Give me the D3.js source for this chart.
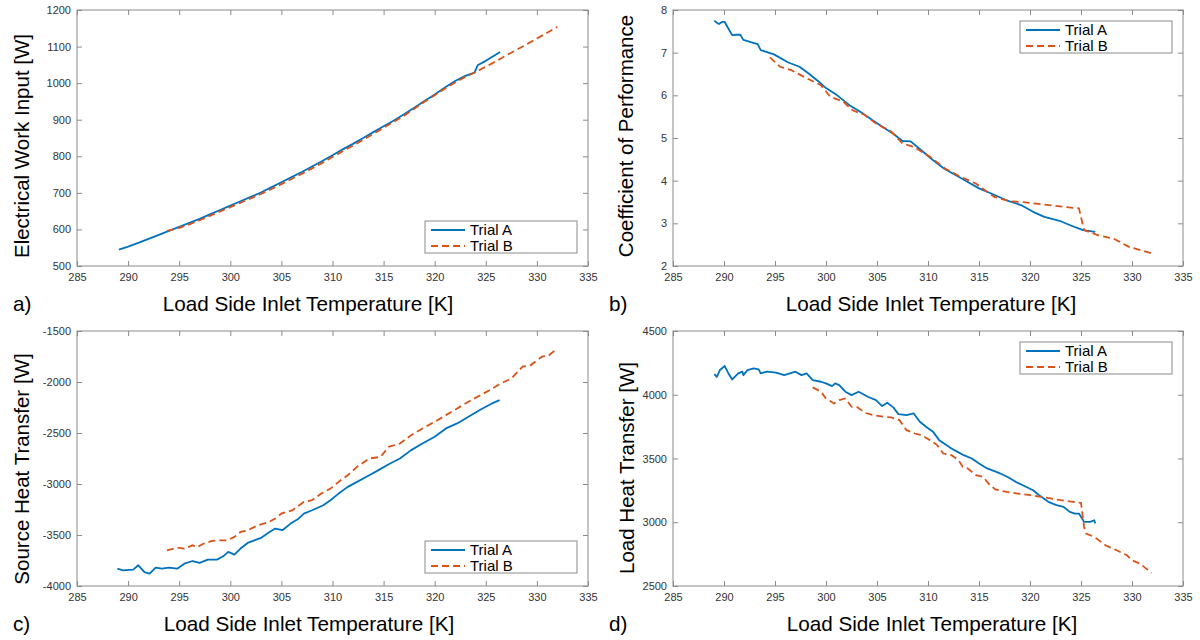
<!DOCTYPE html>
<html>
<head>
<meta charset="utf-8">
<script src="https://cdn.jsdelivr.net/npm/d3@7"></script>
<style>
body{margin:0;background:#fff}
svg{display:block}
text{font-family:"Liberation Sans",Arial,sans-serif}
</style>
</head>
<body>
<div id="chart"></div>
<script>

// x axis shared by all four panels
var xTicks = [285,290,295,300,305,310,315,320,325,330,335]
var seriesNames = ["Trial A","Trial B"]

// a) electrical work input [W]
var elecTicks = [500,600,700,800,900,1000,1100,1200]
var elecA = [[289.1,545],[290,553],[291,563],[292,574],[293,585],[294,596],[295,607],[296,618],[297,629],[298,641],[299,653],[300,665],[301,677],[302,689],[303,701],[304,715],[305,729],[306,743],[307,757],[308,772],[309,787],[310,803],[311,819],[312,834],[313,850],[314,866],[315,882],[316,898],[317,915],[318,933],[319,951],[320,969],[321,988],[322,1006],[323,1020],[323.9,1029],[324.2,1049],[325,1061],[326.4,1085]]
var elecB = [[293.8,596],[295,604],[296,614],[297,625],[298,637],[299,649],[300,661],[301,673],[302,685],[303,697],[304,710],[305,724],[306,738],[307,752],[308,767],[309,782],[310,798],[311,814],[312,829],[313,845],[314,861],[315,878],[316,894],[317,911],[318,930],[319,949],[320,967],[321,985],[322,1002],[323,1017],[324,1030],[325,1045],[326,1060],[327,1076],[328,1091],[329,1106],[330,1122],[331,1138],[332,1154]]

// b) coefficient of performance
var copTicks = [2,3,4,5,6,7,8]
var copA = [[289.05,7.75],[289.3,7.70],[289.5,7.67],[289.8,7.72],[290.07,7.72],[290.3,7.62],[290.8,7.41],[291.2,7.42],[291.6,7.42],[291.9,7.30],[292.7,7.24],[293.3,7.2],[293.6,7.06],[294.9,6.96],[296.3,6.77],[297.4,6.67],[298.3,6.51],[299.3,6.32],[300.0,6.17],[301.1,6.0],[302.3,5.77],[303.4,5.61],[304.6,5.41],[305.6,5.25],[306.6,5.1],[307.5,4.93],[308.3,4.92],[309.4,4.70],[310.5,4.48],[311.6,4.28],[313.0,4.09],[313.9,3.97],[315.0,3.82],[316.2,3.70],[317.7,3.54],[319.2,3.42],[320.3,3.27],[321.4,3.15],[322.9,3.06],[324.0,2.95],[325.2,2.84],[326.4,2.80]]
var copB = [[294.5,6.89],[295.5,6.67],[296.6,6.59],[298.1,6.40],[299.5,6.24],[300.4,5.97],[301.7,5.85],[302.6,5.65],[303.8,5.54],[304.9,5.34],[306.4,5.15],[307.5,4.87],[308.6,4.79],[310.2,4.56],[311.7,4.28],[313.2,4.09],[314.7,3.93],[316.5,3.62],[318.0,3.52],[319.2,3.50],[322.1,3.42],[324.8,3.35],[325.3,2.84],[326.7,2.72],[328.2,2.64],[329.7,2.45],[332.0,2.29]]

// c) source heat transfer [W]
var srcTicks = [-4000,-3500,-3000,-2500,-2000,-1500]
var srcA = [[288.95,-3830],[289.5,-3846],[290.5,-3840],[291.0,-3797],[291.6,-3863],[292.1,-3879],[292.7,-3820],[293.3,-3830],[294.0,-3820],[294.8,-3830],[295.5,-3781],[296.3,-3755],[297.0,-3774],[297.8,-3741],[298.7,-3741],[299.3,-3709],[299.8,-3666],[300.4,-3692],[301.0,-3633],[301.7,-3578],[303.0,-3529],[303.8,-3473],[304.4,-3437],[305.1,-3453],[305.9,-3388],[306.6,-3346],[307.2,-3290],[308.0,-3257],[309.1,-3208],[309.8,-3159],[310.6,-3094],[311.5,-3028],[312.4,-2979],[313.6,-2914],[314.5,-2864],[315.5,-2806],[316.6,-2750],[317.7,-2668],[318.8,-2603],[320.0,-2537],[321.1,-2455],[322.2,-2406],[323.3,-2341],[324.5,-2269],[325.6,-2210],[326.35,-2177]]
var srcB = [[293.8,-3650],[294.8,-3624],[295.5,-3634],[296.3,-3601],[296.8,-3617],[297.4,-3584],[298.2,-3558],[298.9,-3552],[299.7,-3552],[300.4,-3519],[301.0,-3470],[301.7,-3454],[302.7,-3404],[303.8,-3372],[304.4,-3339],[305.0,-3290],[306.1,-3257],[307.2,-3175],[308.0,-3159],[308.9,-3094],[309.8,-3045],[310.8,-2963],[311.5,-2914],[312.4,-2832],[313.6,-2750],[314.7,-2734],[315.5,-2636],[316.6,-2603],[317.7,-2521],[318.8,-2455],[320.0,-2390],[321.1,-2325],[322.2,-2259],[323.3,-2194],[324.5,-2128],[325.4,-2079],[326.35,-2020],[327.5,-1965],[328.6,-1850],[329.4,-1834],[330.5,-1752],[331.2,-1736],[331.9,-1680]]

// d) load heat transfer [W]
var loadTicks = [2500,3000,3500,4000,4500]
var loadA = [[289.05,4162],[289.3,4141],[289.6,4194],[290.07,4225],[290.4,4173],[290.8,4120],[291.4,4168],[291.8,4181],[291.9,4154],[292.3,4194],[292.9,4207],[293.4,4199],[293.6,4168],[294.2,4181],[295.1,4173],[295.9,4154],[297.0,4181],[297.6,4154],[298.1,4168],[298.7,4115],[299.5,4102],[300.0,4089],[300.6,4068],[300.9,4089],[301.3,4076],[301.9,4024],[302.5,3997],[303.2,4024],[304.1,3984],[304.9,3958],[305.5,3911],[306.0,3937],[306.6,3901],[307.1,3848],[307.9,3840],[308.6,3853],[309.2,3788],[309.9,3743],[310.5,3709],[311.1,3644],[311.8,3605],[312.3,3579],[312.9,3552],[313.5,3526],[314.3,3500],[315.0,3461],[315.8,3422],[316.7,3395],[317.1,3382],[317.9,3351],[318.6,3317],[319.6,3278],[320.3,3251],[320.9,3212],[321.8,3160],[322.6,3134],[323.3,3120],[323.9,3081],[324.4,3068],[324.8,3068],[325.3,3003],[325.9,3003],[326.3,3016],[326.4,2990]]
var loadB = [[298.7,4058],[299.5,4024],[300.0,3971],[300.8,3932],[301.3,3958],[301.9,3971],[302.5,3906],[303.1,3901],[303.8,3859],[304.6,3840],[305.7,3827],[306.4,3822],[307.2,3801],[307.9,3722],[308.7,3696],[309.4,3683],[310.2,3644],[310.9,3605],[311.5,3539],[312.3,3526],[313.0,3487],[313.4,3435],[313.9,3422],[314.7,3369],[315.4,3356],[316.0,3298],[316.6,3257],[317.7,3238],[318.8,3225],[320.0,3212],[321.1,3199],[323.0,3173],[325.0,3152],[325.3,2963],[325.5,2911],[326.3,2885],[327.4,2820],[328.5,2780],[329.5,2741],[330.0,2702],[330.8,2675],[331.4,2636],[331.9,2602]]

var colorA = "#0072BD", colorB = "#D95319"
var axisGray = "#8a8a8a"

var panels = [
	{tag:"a)", ylabel:"Electrical Work Input [W]", yDomain:[500,1200], yTicks:elecTicks, A:elecA, B:elecB,
	 left:77, top:10, width:511, height:256, legendTop:false, ylabX:29, ylabY:146, xlabX:308},
	{tag:"b)", ylabel:"Coefficient of Performance", yDomain:[2,8], yTicks:copTicks, A:copA, B:copB,
	 left:673, top:10, width:510, height:256, legendTop:true, ylabX:633, ylabY:136, xlabX:931},
	{tag:"c)", ylabel:"Source Heat Transfer [W]", yDomain:[-4000,-1500], yTicks:srcTicks, A:srcA, B:srcB,
	 left:77, top:331, width:511, height:255, legendTop:false, ylabX:29, ylabY:469, xlabX:309},
	{tag:"d)", ylabel:"Load Heat Transfer [W]", yDomain:[2500,4500], yTicks:loadTicks, A:loadA, B:loadB,
	 left:673, top:331, width:510, height:255, legendTop:true, ylabX:634, ylabY:468, xlabX:932}
]

var svg = d3.select("#chart").append("svg").attr("width",1200).attr("height",640)

function styleAxis(sel){
	sel.select(".domain").remove()
	sel.selectAll(".tick line").attr("stroke",axisGray)
	sel.selectAll(".tick text").attr("fill","#333").style("font-size","11px")
}

function drawPanel(p){
	var bottom = p.top+p.height, right = p.left+p.width
	var x = d3.scaleLinear().domain([285,335]).range([p.left,right])
	var y = d3.scaleLinear().domain(p.yDomain).range([bottom,p.top])
	var g = svg.append("g")

	g.append("g").attr("transform","translate(0,"+bottom+")")
		.call(d3.axisBottom(x).tickValues(xTicks).tickSize(-5).tickSizeOuter(0).tickPadding(7).tickFormat(function(d){return String(d)}))
		.call(styleAxis)
	g.append("g").attr("transform","translate(0,"+p.top+")")
		.call(d3.axisTop(x).tickValues(xTicks).tickSize(-5).tickSizeOuter(0).tickFormat(""))
		.call(styleAxis)
	g.append("g").attr("transform","translate("+p.left+",0)")
		.call(d3.axisLeft(y).tickValues(p.yTicks).tickSize(-5).tickSizeOuter(0).tickPadding(6).tickFormat(function(d){return String(d)}))
		.call(styleAxis)
	g.append("g").attr("transform","translate("+right+",0)")
		.call(d3.axisRight(y).tickValues(p.yTicks).tickSize(-5).tickSizeOuter(0).tickFormat(""))
		.call(styleAxis)

	g.append("rect").attr("x",p.left).attr("y",p.top).attr("width",p.width).attr("height",p.height)
		.attr("fill","none").attr("stroke",axisGray).attr("stroke-width",1)

	var line = d3.line().x(function(d){return x(d[0])}).y(function(d){return y(d[1])})
	g.append("path").datum(p.A).attr("d",line).attr("fill","none")
		.attr("stroke",colorA).attr("stroke-width",1.8).attr("stroke-linejoin","round")
	g.append("path").datum(p.B).attr("d",line).attr("fill","none")
		.attr("stroke",colorB).attr("stroke-width",1.8).attr("stroke-dasharray","7,4")

	// legend
	var lw = 152, lh = 32
	var lx = right-11-lw
	var ly = p.legendTop ? p.top+11 : bottom-13-lh
	var leg = g.append("g").attr("transform","translate("+lx+","+ly+")")
	leg.append("rect").attr("width",lw).attr("height",lh).attr("fill","#fff").attr("stroke",axisGray)
	seriesNames.forEach(function(name,i){
		var yy = 9+i*16
		leg.append("line").attr("x1",6).attr("x2",40).attr("y1",yy).attr("y2",yy)
			.attr("stroke",i==0?colorA:colorB).attr("stroke-width",1.8)
			.attr("stroke-dasharray",i==0?null:"7,4")
		leg.append("text").attr("x",45).attr("y",yy+5).text(name)
			.style("font-size","15px").attr("fill","#000")
	})

	// labels
	svg.append("text").attr("x",p.xlabX).attr("y",bottom+45).attr("text-anchor","middle")
		.style("font-size","20.7px").text("Load Side Inlet Temperature [K]")
	svg.append("text").attr("x",p.left-64).attr("y",bottom+45)
		.style("font-size","20.7px").text(p.tag)
	svg.append("text").attr("transform","translate("+p.ylabX+","+p.ylabY+") rotate(-90)")
		.attr("text-anchor","middle").style("font-size","20.5px").text(p.ylabel)
}

panels.forEach(drawPanel)

</script>
</body>
</html>
